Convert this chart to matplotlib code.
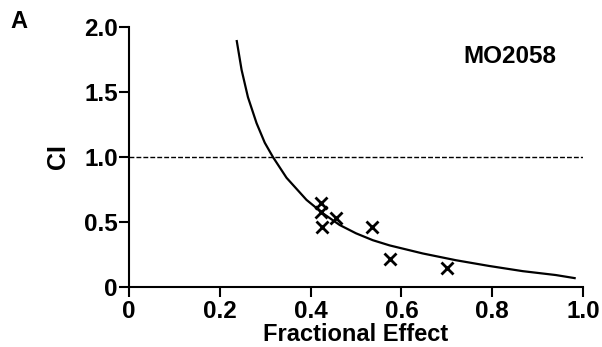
import matplotlib
matplotlib.use("Agg")
import matplotlib.pyplot as plt
from matplotlib.ticker import FixedLocator, FixedFormatter

plt.rcParams['font.family'] = ['Liberation Sans', 'DejaVu Sans']
plt.rcParams['font.weight'] = 'bold'

# Fitted CI curve
curve_fa = [0.237, 0.248, 0.262, 0.281, 0.299, 0.317, 0.347, 0.391, 0.427, 0.464,
            0.500, 0.537, 0.574, 0.647, 0.720, 0.793, 0.867, 0.940, 0.984]
curve_ci = [1.90, 1.67, 1.46, 1.26, 1.11, 1.00, 0.84, 0.67, 0.567, 0.477,
            0.413, 0.36, 0.32, 0.258, 0.206, 0.162, 0.122, 0.092, 0.067]

# Observed data points
pts_fa = [0.424, 0.422, 0.426, 0.455, 0.536, 0.574, 0.701]
pts_ci = [0.65, 0.58, 0.46, 0.53, 0.46, 0.215, 0.146]

x_ticks = [0, 0.2, 0.4, 0.6, 0.8, 1.0]
x_ticklabels = ['0', '0.2', '0.4', '0.6', '0.8', '1.0']
y_ticks = [0, 0.5, 1.0, 1.5, 2.0]
y_ticklabels = ['0', '0.5', '1.0', '1.5', '2.0']

W, H = 602, 347
fig = plt.figure(figsize=(W / 100, H / 100), dpi=100)
ax = fig.add_axes([129 / W, 1 - 287 / H, (583 - 129) / W, (287 - 27) / H])

ax.plot(curve_fa, curve_ci, color='black', lw=1.6, solid_capstyle='butt',
        solid_joinstyle='round', clip_on=False)
ax.axhline(1.0, color='black', lw=1.0, ls=(0, (3.5, 1.5)))
ax.plot(pts_fa, pts_ci, ls='none', marker='x', ms=8, mew=2, color='black')

ax.set_xlim(0, 1.0)
ax.set_ylim(0, 2.0)
ax.xaxis.set_major_locator(FixedLocator(x_ticks))
ax.xaxis.set_major_formatter(FixedFormatter(x_ticklabels))
ax.yaxis.set_major_locator(FixedLocator(y_ticks))
ax.yaxis.set_major_formatter(FixedFormatter(y_ticklabels))

for s in ['top', 'right']:
    ax.spines[s].set_visible(False)
for s in ['left', 'bottom']:
    ax.spines[s].set_linewidth(1.5)

ax.tick_params(axis='both', direction='out', length=7, width=1.5, labelsize=17.5)
ax.tick_params(axis='x', pad=2.5)
ax.tick_params(axis='y', pad=1)
for lab in ax.get_xticklabels() + ax.get_yticklabels():
    lab.set_fontweight('bold')

ax.set_xlabel('Fractional Effect', fontsize=17, fontweight='bold', labelpad=0)
ax.set_ylabel('CI', fontsize=18, fontweight='bold', labelpad=10)

ax.text(0.84, 1.77, 'MO2058', fontsize=17.5, fontweight='bold', ha='center', va='center')
fig.text(18.5 / W, 1 - 21 / H, 'A', fontsize=17, fontweight='bold', ha='center', va='center')

fig.savefig('out.png', dpi=100)
